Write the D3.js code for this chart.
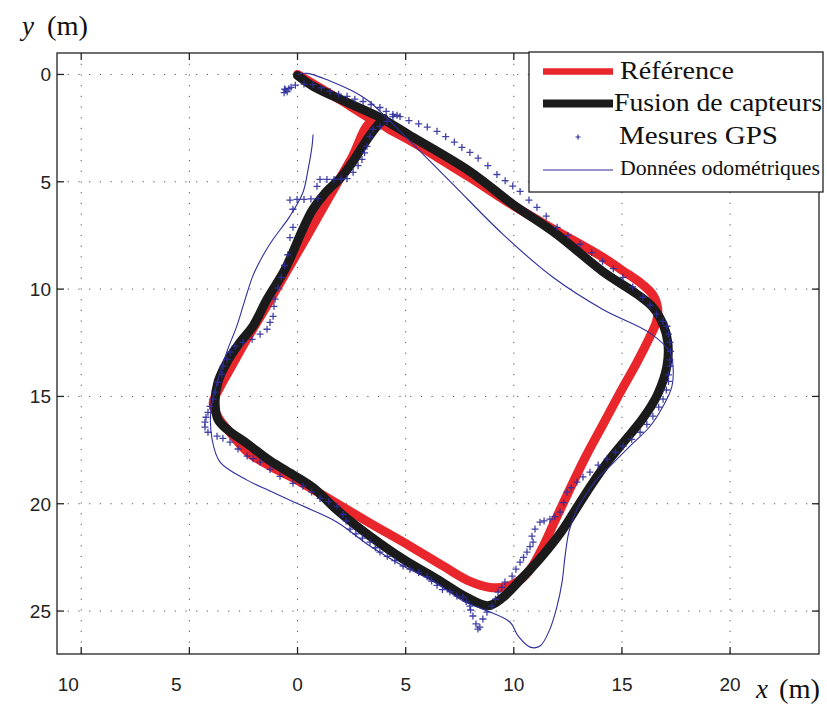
<!DOCTYPE html>
<html><head><meta charset="utf-8">
<script src="https://cdn.jsdelivr.net/npm/d3@7"></script>
<style>body{margin:0;background:#fff}</style>
</head><body>
<svg id="chart" width="827" height="708"></svg>
<script>
// ---- tick definitions ----
const xTicks = [-10, -5, 0, 5, 10, 15, 20];
const xTickLabels = ["10", "5", "0", "5", "10", "15", "20"];
const yTicks = [0, 5, 10, 15, 20, 25];
const yTickLabels = ["0", "5", "10", "15", "20", "25"];

// ---- series names ----
const seriesNames = ["Référence", "Fusion de capteurs", "Mesures GPS", "Données odométriques"];

// ---- Référence (red) [x, y] in metres ----
const reference = [
  [0,0],[1.0,0.6],[2.0,1.2],[3.44,2.1],[4.14,2.45],[5.35,3.15],[6.6,3.95],[7.97,4.8],
  [9.96,6.1],[12.0,7.3],[14.12,8.52],[15.05,9.15],[15.97,9.8],[16.45,10.3],[16.65,10.9],
  [16.6,11.5],[16.3,12.2],[15.7,13.4],[14.9,14.85],[14.1,16.35],[13.3,17.85],
  [12.6,19.3],[11.9,20.8],[11.3,22.1],[10.8,23.0],[10.3,23.55],[9.7,23.85],
  [8.9,23.9],[7.97,23.62],[6.73,22.9],[5.2,21.97],[3.35,20.9],[1.5,19.8],[-0.2,18.8],
  [-1.27,18.25],[-2.3,17.6],[-3.1,16.7],[-3.65,16.0],[-3.9,15.3],[-3.6,14.6],[-3.12,13.73],
  [-2.4,12.43],[-1.41,10.76],[-0.5,9.17],[0.44,7.54],[1.5,5.65],[2.5,3.9],[3.44,2.2],
  [4.4,2.65],[5.5,3.25]
];

// ---- Fusion de capteurs (black) ----
const fusion = [
  [0,0.05],[0.72,0.55],[2.29,1.3],[3.81,2.0],[5.35,2.93],[7.97,4.52],[9.96,6.05],
  [11.99,7.45],[14.1,9.17],[15.7,10.24],[16.43,10.85],[16.9,11.64],[17.12,12.48],
  [17.08,13.59],[16.65,14.9],[15.95,16.05],[15.1,17.1],[14.3,18.1],[13.6,19.1],
  [12.9,20.2],[12.2,21.3],[11.3,22.45],[10.3,23.55],[9.45,24.4],[8.81,24.75],[7.8,24.35],
  [6.45,23.51],[4.88,22.58],[3.35,21.51],[1.83,20.3],[0.72,19.25],[-0.21,18.65],
  [-1.27,18.0],[-2.33,17.2],[-3.26,16.53],[-3.68,16.06],[-3.81,15.27],[-3.68,14.34],
  [-3.26,13.4],[-2.66,12.48],[-2.06,11.73],[-1.41,10.47],[-0.58,9.08],[0.25,7.2],
  [0.7,6.3],[1.3,5.5],[2.0,4.8],[2.6,4.0],[3.1,3.2],[3.6,2.5],[4.0,2.05]
];

// ---- Mesures GPS (blue + markers) ----
const gps = [
  [-0.62,0.85],[-0.55,0.72],[-0.48,0.8],[-0.6,0.68],[-0.4,0.66],[-0.3,0.6],
  [-0.1,0.5],[0.3,0.45],[0.72,0.47],[1.1,0.62],[1.5,0.79],[1.9,0.92],[2.29,1.02],
  [2.65,1.15],[3.03,1.26],[3.4,1.4],[3.81,1.54],[4.1,1.72],[4.41,1.86],[4.74,1.96],
  [5.15,2.15],[5.6,2.3],[6.0,2.45],[6.45,2.65],[6.85,2.9],[7.25,3.15],[7.6,3.4],
  [7.97,3.63],[8.35,3.9],[8.8,4.25],[9.22,4.66],[9.6,4.95],[9.95,5.2],[10.29,5.45],
  [10.7,5.85],[11.07,6.19],[11.5,6.6],[12.0,7.12],[12.5,7.5],[13.06,7.91],[13.6,8.3],
  [14.1,8.7],[14.6,9.05],[15.05,9.45],[15.5,9.9],[15.97,10.38],[16.3,10.75],[16.6,11.17],
  [16.9,11.5],[17.08,11.73],[17.15,12.1],[17.22,12.48],[17.25,12.9],[17.22,13.3],
  [17.22,13.59],[17.15,14.0],[17.15,14.3],[17.05,14.7],[16.9,15.13],[16.7,15.5],
  [16.43,15.92],[16.15,16.3],[15.84,16.67],[15.45,17.0],[15.05,17.32],[14.7,17.6],
  [14.31,17.92],[13.9,18.2],[13.52,18.53],[13.2,18.75],[12.92,18.99],[12.65,19.25],
  [12.46,19.46],[12.3,19.95],[12.14,20.39],[11.9,20.6],[11.67,20.72],[11.4,20.8],
  [11.21,20.86],[10.98,21.18],[10.84,21.51],[10.89,21.79],[10.75,22.0],[10.61,22.25],
  [10.45,22.5],[10.29,22.72],[10.1,23.05],[9.92,23.37],[9.59,23.65],[9.45,23.9],
  [9.27,24.12],[9.15,24.45],[8.99,24.77],[8.76,25.05],[8.57,25.37],[8.43,25.75],
  [8.34,25.84],[8.25,25.6],[8.11,25.23],[8.0,24.95],[7.97,24.77],[7.8,24.55],
  [7.65,24.35],[7.37,24.3],[7.05,24.1],[6.7,24.0],[6.45,23.8],[6.2,23.6],[5.99,23.4],
  [5.6,23.2],[5.2,23.05],[4.88,22.9],[4.5,22.65],[4.15,22.45],[3.81,22.25],[3.6,22.05],
  [3.35,21.79],[3.0,21.6],[2.7,21.4],[2.43,21.18],[2.25,20.8],[2.1,20.5],[1.83,20.11],
  [1.45,19.9],[1.04,19.75],[0.65,19.45],[0.25,19.18],[-0.21,19.05],[-0.81,18.72],
  [-1.27,18.4],[-1.73,18.06],[-2.05,17.9],[-2.33,17.78],[-2.75,17.45],[-3.12,17.13],
  [-3.45,16.95],[-3.72,16.85],[-4.14,16.67],[-4.28,16.43],[-4.28,16.2],[-4.23,15.97],
  [-4.14,15.74],[-4.05,15.46],[-3.91,15.13],[-3.81,14.8],[-3.68,14.34],[-3.49,13.97],
  [-3.44,13.59],[-3.26,13.27],[-3.12,12.94],[-2.89,12.66],[-2.52,12.48],[-2.1,12.34],
  [-1.73,12.1],[-1.41,11.87],[-1.27,11.55],[-1.13,11.27],[-1.09,10.8],[-1.04,10.47],
  [-0.9,9.95],[-0.75,9.45],[-0.6,8.9],[-0.45,8.4],[-0.35,7.6],[-0.21,7.12],[-0.21,6.28],
  [-0.35,5.85],[-0.02,5.82],[0.3,5.82],[0.62,5.8],[0.95,5.78],[0.9,5.21],[1.04,4.89],
  [1.36,4.89],[1.69,4.89],[2.01,4.87],[2.29,4.85],[2.57,4.56],[2.8,4.25],[2.98,3.96],
  [3.1,3.65],[3.21,3.35],[3.35,2.89],[3.49,2.56],[3.81,2.42],[4.14,2.19],[4.41,1.96],[4.6,1.9]
];

// ---- Données odométriques (thin blue line) ----
const odometry = [
  [0,0],[0.44,-0.05],[1.5,0.3],[2.5,0.75],[3.3,1.25],[4.1,2.0],[5.35,3.26],[7.19,5.12],
  [9.5,7.45],[11.81,9.45],[14.12,10.95],[16.3,12.05],[17.22,12.94],
  [17.36,13.59],[17.31,14.53],[16.9,15.46],[16.3,16.39],[15.37,17.32],[14.45,18.25],
  [13.85,18.85],[13.35,19.55],[12.9,20.3],[12.55,21.3],[12.37,22.44],[12.23,23.65],
  [12.0,24.77],[11.67,25.84],[11.21,26.63],[10.75,26.68],[10.2,26.16],[9.82,25.51],
  [8.57,24.91],[7.65,24.53],[6.45,23.7],[4.88,22.9],[3.35,21.97],[1.83,20.86],
  [0.25,20.11],[-1.27,19.41],[-2.33,18.9],[-3.58,18.06],[-3.95,17.0],[-4.0,15.6],
  [-3.7,14.3],[-3.26,12.9],[-2.8,11.7],[-2.43,10.5],[-2.05,9.35],[-1.55,8.35],
  [-1.13,7.68],[-0.35,6.6],[0.25,5.5],[0.49,4.42],[0.67,3.35],[0.72,2.8]
];

// ---- layout ----
const svg = d3.select("#chart");
const L = 57, R = 819, T = 53, B = 654;
const x = d3.scaleLinear().domain([-11.12, 24.11]).range([L, R]);
const y = d3.scaleLinear().domain([-1, 27]).range([T, B]);

svg.append("rect").attr("width", 827).attr("height", 708).attr("fill", "#fff");

svg.append("defs").append("clipPath").attr("id", "clip")
  .append("rect").attr("x", L).attr("y", T).attr("width", R - L).attr("height", B - T);

// grid
const grid = svg.append("g");
grid.selectAll(".gx").data(xTicks).enter().append("line")
  .attr("x1", d => x(d)).attr("x2", d => x(d)).attr("y1", T).attr("y2", B)
  .attr("stroke", "#555").attr("stroke-width", 1).attr("stroke-dasharray", "1.2,9.5");
grid.selectAll(".gy").data(yTicks).enter().append("line")
  .attr("y1", d => y(d)).attr("y2", d => y(d)).attr("x1", L).attr("x2", R)
  .attr("stroke", "#555").attr("stroke-width", 1).attr("stroke-dasharray", "1.2,9.5");

const data = svg.append("g").attr("clip-path", "url(#clip)");
const line = d3.line().x(d => x(d[0])).y(d => y(d[1])).curve(d3.curveCatmullRom.alpha(0.5));

const RED = "#e8262b", BLACK = "#1b1b1b", BLUE = "#2e2e9c";

data.append("path").attr("d", line(reference)).attr("fill", "none")
  .attr("stroke", RED).attr("stroke-width", 9).attr("stroke-linejoin", "round").attr("stroke-linecap", "round");
data.append("path").attr("d", line(fusion)).attr("fill", "none")
  .attr("stroke", BLACK).attr("stroke-width", 9).attr("stroke-linejoin", "round").attr("stroke-linecap", "round");

data.selectAll(".gps").data(gps).enter().append("path")
  .attr("transform", d => `translate(${x(d[0])},${y(d[1])})`)
  .attr("d", "M-3.5,0H3.5M0,-3.5V3.5")
  .attr("stroke", BLUE).attr("stroke-width", 1.3).attr("fill", "none").attr("opacity", 0.9);

data.append("path").attr("d", line(odometry)).attr("fill", "none")
  .attr("stroke", BLUE).attr("stroke-width", 1.1);

// axes frame and inward ticks
const ax = svg.append("g").attr("stroke", "#222").attr("stroke-width", 1.3);
ax.append("rect").attr("x", L).attr("y", T).attr("width", R - L).attr("height", B - T).attr("fill", "none");
const TL = 7;
xTicks.forEach(v => {
  ax.append("line").attr("x1", x(v)).attr("x2", x(v)).attr("y1", B).attr("y2", B - TL);
  ax.append("line").attr("x1", x(v)).attr("x2", x(v)).attr("y1", T).attr("y2", T + TL);
});
yTicks.forEach(v => {
  ax.append("line").attr("y1", y(v)).attr("y2", y(v)).attr("x1", L).attr("x2", L + TL);
  ax.append("line").attr("y1", y(v)).attr("y2", y(v)).attr("x1", R).attr("x2", R - TL);
});

// tick labels
const tickFont = "'Liberation Sans', Arial, sans-serif";
svg.selectAll(".xl").data(xTicks).enter().append("text")
  .attr("x", (d, i) => x(d) + (d < 0 ? -13 : 0)).attr("y", 691)
  .attr("text-anchor", "middle").attr("font-family", tickFont).attr("font-size", 19).attr("fill", "#222")
  .text((d, i) => xTickLabels[i]);
svg.selectAll(".yl").data(yTicks).enter().append("text")
  .attr("x", 51).attr("y", d => y(d) + 7)
  .attr("text-anchor", "end").attr("font-family", tickFont).attr("font-size", 19).attr("fill", "#222")
  .text((d, i) => yTickLabels[i]);

// axis labels
const serif = "'Liberation Serif', 'Times New Roman', serif";
svg.append("text").attr("x", 22).attr("y", 35).attr("font-family", serif).attr("font-size", 27)
  .attr("font-style", "italic").attr("fill", "#111").text("y");
svg.append("text").attr("x", 47).attr("y", 35).attr("font-family", serif).attr("font-size", 27)
  .attr("fill", "#111").attr("textLength", 41).attr("lengthAdjust", "spacingAndGlyphs").text("(m)");
svg.append("text").attr("x", 756).attr("y", 698).attr("font-family", serif).attr("font-size", 27)
  .attr("font-style", "italic").attr("fill", "#111").text("x");
svg.append("text").attr("x", 779).attr("y", 698).attr("font-family", serif).attr("font-size", 27)
  .attr("fill", "#111").attr("textLength", 41).attr("lengthAdjust", "spacingAndGlyphs").text("(m)");

// legend
const lg = svg.append("g");
lg.append("rect").attr("x", 529).attr("y", 52).attr("width", 294).attr("height", 140)
  .attr("fill", "#fff").attr("stroke", "#222").attr("stroke-width", 1.3);
lg.append("line").attr("x1", 543).attr("x2", 613).attr("y1", 71.5).attr("y2", 71.5).attr("stroke", RED).attr("stroke-width", 6.5);
lg.append("line").attr("x1", 543).attr("x2", 613).attr("y1", 103.5).attr("y2", 103.5).attr("stroke", BLACK).attr("stroke-width", 8);
lg.append("path").attr("transform", "translate(578,137)").attr("d", "M-2.5,0H2.5M0,-2.5V2.5").attr("stroke", BLUE).attr("stroke-width", 1.2);
lg.append("line").attr("x1", 543).attr("x2", 613).attr("y1", 170).attr("y2", 170).attr("stroke", BLUE).attr("stroke-width", 1.2);

const legendText = [
  {t: seriesNames[0], x: 620, y: 79, s: 25, w: 114},
  {t: seriesNames[1], x: 614, y: 111, s: 25, w: 208},
  {t: seriesNames[2], x: 619, y: 144, s: 26, w: 159},
  {t: seriesNames[3], x: 620, y: 175, s: 21, w: 200}
];
lg.selectAll(".lt").data(legendText).enter().append("text")
  .attr("x", d => d.x).attr("y", d => d.y).attr("font-family", serif).attr("font-size", d => d.s)
  .attr("fill", "#111").attr("textLength", d => d.w).attr("lengthAdjust", "spacingAndGlyphs")
  .text(d => d.t);
</script>
</body></html>
